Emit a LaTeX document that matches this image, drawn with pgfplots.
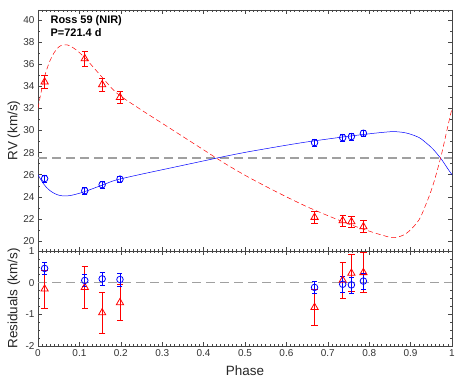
\documentclass[border=0pt]{standalone}
\usepackage{fontspec}
\setmainfont{Liberation Sans}
\usepackage{pgfplots}
\pgfplotsset{compat=1.18}

\definecolor{framegray}{RGB}{70,70,70}
\definecolor{zerogray}{RGB}{160,160,160}

\pgfplotsset{
  rvpanel/.style={
    scale only axis, width=414bp,
    xmin=0, xmax=1,
    xtick={0,0.1,...,1}, minor x tick num=9,
    tick align=inside,
    major tick length=4bp, minor tick length=2bp,
    axis line style={framegray, line width=0.6pt},
    every tick/.style={framegray, line width=0.5pt},
    tick label style={font=\fontsize{10}{12}\selectfont, text=black!80},
    /pgf/number format/assume math mode=true,
    label style={font=\fontsize{13.5}{16}\selectfont, text=black!85},
    ylabel style={at={(axis description cs:-0.058,0.5)}, anchor=center},
    clip=true,
  },
  bluept/.style={only marks, blue, mark=o, mark size=3.3pt,
    mark options={line width=0.8pt},
    error bars/.cd, y dir=both, y explicit,
    error bar style={blue, line width=0.6pt},
    error mark options={blue, rotate=90, mark size=2.5pt, line width=0.6pt}},
  redpt/.style={only marks, red, mark=triangle, mark size=4.2pt,
    mark options={line width=0.8pt},
    error bars/.cd, y dir=both, y explicit,
    error bar style={red, line width=0.6pt},
    error mark options={red, rotate=90, mark size=3.2pt, line width=0.6pt}},
}

\begin{document}
\begin{tikzpicture}
\useasboundingbox (-38bp,-32bp) rectangle (425bp,346bp);

% ---- RV panel ----
\begin{axis}[rvpanel,
    at={(0,95bp)}, anchor=south west, height=241bp,
    ymin=19.1, ymax=40.9,
    ytick={20,22,...,40}, minor y tick num=1,
    xticklabels={},
    ylabel={RV (km/s)},
]
\addplot[zerogray, line width=1.6pt, dash pattern=on 9bp off 5bp] coordinates {(0,27.5)(1,27.5)};
% primary fit (blue)
\addplot[blue, line width=0.5pt, smooth] coordinates {
  (0.000,26.00)(0.005,25.67)(0.010,25.37)(0.015,25.10)(0.020,24.87)(0.030,24.53)
  (0.040,24.30)(0.050,24.15)(0.060,24.08)(0.070,24.08)(0.080,24.13)(0.090,24.22)
  (0.100,24.32)(0.120,24.57)(0.140,24.85)(0.160,25.13)(0.180,25.42)(0.200,25.63)
  (0.250,26.05)(0.300,26.45)(0.350,26.85)(0.400,27.25)(0.450,27.65)(0.500,28.02)
  (0.550,28.35)(0.600,28.67)(0.650,28.97)(0.700,29.23)(0.750,29.48)(0.800,29.70)
  (0.830,29.82)(0.860,29.90)(0.890,29.77)(0.920,29.37)(0.940,28.80)(0.950,28.47)
  (0.960,28.07)(0.975,27.37)(0.990,26.53)(1.000,26.00)};
% secondary fit (red)
\addplot[red, line width=0.5pt, dash pattern=on 5bp off 3bp, smooth] coordinates {
  (0.000,32.00)(0.005,33.00)(0.010,33.90)(0.015,34.70)(0.020,35.40)(0.030,36.40)
  (0.040,37.10)(0.050,37.55)(0.060,37.75)(0.070,37.75)(0.080,37.60)(0.090,37.35)
  (0.100,37.05)(0.120,36.30)(0.140,35.45)(0.160,34.60)(0.180,33.75)(0.200,33.10)
  (0.250,31.85)(0.300,30.65)(0.350,29.45)(0.400,28.25)(0.450,27.05)(0.500,25.95)
  (0.550,24.95)(0.600,24.00)(0.650,23.10)(0.700,22.30)(0.750,21.55)(0.800,20.90)
  (0.830,20.55)(0.860,20.30)(0.890,20.70)(0.920,21.90)(0.940,23.60)(0.950,24.60)
  (0.960,25.80)(0.975,27.90)(0.990,30.40)(1.000,32.00)};
\addplot[bluept] coordinates {
  (0.016,25.65) +- (0,0.3)  (0.113,24.55) +- (0,0.3)  (0.155,25.10) +- (0,0.3)
  (0.198,25.60) +- (0,0.3)  (0.668,28.90) +- (0,0.3)  (0.736,29.35) +- (0,0.3)
  (0.757,29.45) +- (0,0.3)  (0.786,29.75) +- (0,0.3)};
\addplot[redpt] coordinates {
  (0.016,34.40) +- (0,0.6)  (0.113,36.50) +- (0,0.65) (0.155,34.15) +- (0,0.6)
  (0.198,33.00) +- (0,0.55) (0.668,22.15) +- (0,0.5)  (0.736,21.85) +- (0,0.5)
  (0.757,21.75) +- (0,0.5)  (0.786,21.30) +- (0,0.55)};
\node[anchor=north west, align=left, font=\bfseries\fontsize{11}{12.5}\selectfont]
  at (axis description cs:0.022,0.99) {Ross 59 (NIR)\\P=721.4 d};
\end{axis}

% ---- residual panel ----
\begin{axis}[rvpanel,
    at={(0,0)}, anchor=south west, height=95bp,
    ymin=-2, ymax=1,
    ytick={-2,-1,0,1}, minor y tick num=3,
    xticklabels={0,0.1,0.2,0.3,0.4,0.5,0.6,0.7,0.8,0.9,1},
    xlabel={Phase},
    xlabel style={at={(axis description cs:0.5,0)}, anchor=center, yshift=-25bp},
    ylabel={Residuals (km/s)},
]
\addplot[zerogray, line width=1.6pt, dash pattern=on 9bp off 5bp] coordinates {(0,0)(1,0)};
\addplot[redpt] coordinates {
  (0.016,-0.20) +- (0,0.6)  (0.113,-0.15) +- (0,0.67) (0.155,-0.95) +- (0,0.65)
  (0.198,-0.63) +- (0,0.57) (0.668,-0.78) +- (0,0.57) (0.736,0.08) +- (0,0.57)
  (0.757,0.30) +- (0,0.58)  (0.786,0.32) +- (0,0.63)};
\addplot[bluept] coordinates {
  (0.016,0.45) +- (0,0.2)   (0.113,0.07) +- (0,0.2)   (0.155,0.12) +- (0,0.2)
  (0.198,0.10) +- (0,0.2)   (0.668,-0.15) +- (0,0.2)  (0.736,-0.05) +- (0,0.25)
  (0.757,-0.07) +- (0,0.25) (0.786,0.05) +- (0,0.25)};
\end{axis}
\end{tikzpicture}
\end{document}
